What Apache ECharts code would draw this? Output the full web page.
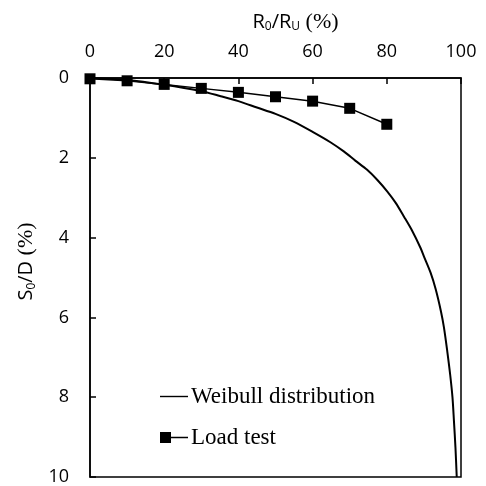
<!DOCTYPE html>
<html><head><meta charset="utf-8">
<script src="https://cdn.jsdelivr.net/npm/echarts@6/dist/echarts.min.js"></script>
<style>html,body{margin:0;padding:0;background:#fff}#c{width:486px;height:486px}</style>
</head><body><div id="c"></div>
<script>
var xTicks = [0, 20, 40, 60, 80, 100];
var yTicks = [0, 2, 4, 6, 8, 10];
var loadX = [0, 10, 20, 30, 40, 50, 60, 70, 80];
var loadY = [0.02, 0.07, 0.16, 0.26, 0.36, 0.47, 0.58, 0.76, 1.16];
var weibX = [0, 10, 20, 30, 35, 40, 45, 50, 55, 60, 64.8, 68.4, 71.5, 74.7, 77.4, 80.1, 82.4, 84.6, 86.9, 89.1, 90.0, 91.8, 93.2, 94.6, 95.4, 96.3, 97.1, 97.7, 98.1, 98.5, 98.85];
var weibY = [0, 0.05, 0.17, 0.33, 0.45, 0.58, 0.74, 0.9, 1.1, 1.35, 1.61, 1.84, 2.07, 2.3, 2.55, 2.84, 3.13, 3.47, 3.84, 4.26, 4.47, 4.88, 5.3, 5.85, 6.25, 6.85, 7.45, 8.0, 8.6, 9.25, 10];

function pairs(xs, ys){ return xs.map(function(x,i){return [x, ys[i]];}); }

var chart = echarts.init(document.getElementById('c'));
var sans = 'Open Sans';
var serif = 'Liberation Serif';
chart.setOption({
  animation: false,
  grid: {left: 90, top: 78, right: 25, bottom: 9, show: true, borderColor: '#000', borderWidth: 1.5, backgroundColor: 'transparent'},
  xAxis: {
    type: 'value', position: 'top', min: xTicks[0], max: xTicks[xTicks.length-1], interval: 20,
    axisLine: {show: true, lineStyle: {color: '#000', width: 1.5}},
    axisTick: {show: true, inside: true, length: 6, lineStyle: {color: '#000', width: 1.5}},
    axisLabel: {color: '#000', fontSize: 18, fontFamily: sans, margin: 17},
    splitLine: {show: false},
    name: '{a|R}{s|0}{a|/R}{s|U}{b| (%)}',
    nameLocation: 'middle', nameGap: 45,
    nameTextStyle: {padding: [0, 0, 0, 40], rich: {
      a: {fontSize: 20, fontFamily: sans, color: '#000'},
      s: {fontSize: 12, fontFamily: sans, color: '#000', verticalAlign: 'bottom', padding: [9,0,0,0]},
      b: {fontSize: 22, fontFamily: serif, color: '#000'}
    }}
  },
  yAxis: {
    type: 'value', inverse: true, min: yTicks[0], max: yTicks[yTicks.length-1], interval: 2,
    axisLine: {show: true, lineStyle: {color: '#000', width: 1.5}},
    axisTick: {show: true, inside: true, length: 6, lineStyle: {color: '#000', width: 1.5}},
    axisLabel: {color: '#000', fontSize: 18, fontFamily: sans, margin: 21},
    splitLine: {show: false},
    name: '{a|S}{s|0}{a|/D}{b| (%)}',
    nameLocation: 'middle', nameGap: 49, nameRotate: 90,
    nameTextStyle: {padding: [0, 0, 0, 32], rich: {
      a: {fontSize: 20, fontFamily: sans, color: '#000'},
      s: {fontSize: 12, fontFamily: sans, color: '#000', verticalAlign: 'bottom', padding: [9,0,0,0]},
      b: {fontSize: 22, fontFamily: serif, color: '#000'}
    }}
  },
  legend: {
    orient: 'vertical', left: 160, top: 385, padding: 0, itemWidth: 28, itemHeight: 11, itemGap: 18,
    textStyle: {fontFamily: serif, fontSize: 23, color: '#000', padding: [0,0,0,-2]},
    data: [
      {name: 'Weibull distribution', icon: 'path://M0,4.8 L28,4.8 L28,6.2 L0,6.2 Z'},
      {name: 'Load test', icon: 'path://M0,0 L11,0 L11,11 L0,11 Z M11,4.8 L28,4.8 L28,6.2 L11,6.2 Z'}
    ]
  },
  series: [
    {name: 'Weibull distribution', type: 'line', data: pairs(weibX, weibY), smooth: 0.3,
     symbol: 'none', lineStyle: {color: '#000', width: 2}, itemStyle: {color: '#000'}},
    {name: 'Load test', type: 'line', data: pairs(loadX, loadY), symbol: 'rect', symbolSize: 11,
     lineStyle: {color: '#000', width: 1.5}, itemStyle: {color: '#000'}}
  ]
});
</script></body></html>
